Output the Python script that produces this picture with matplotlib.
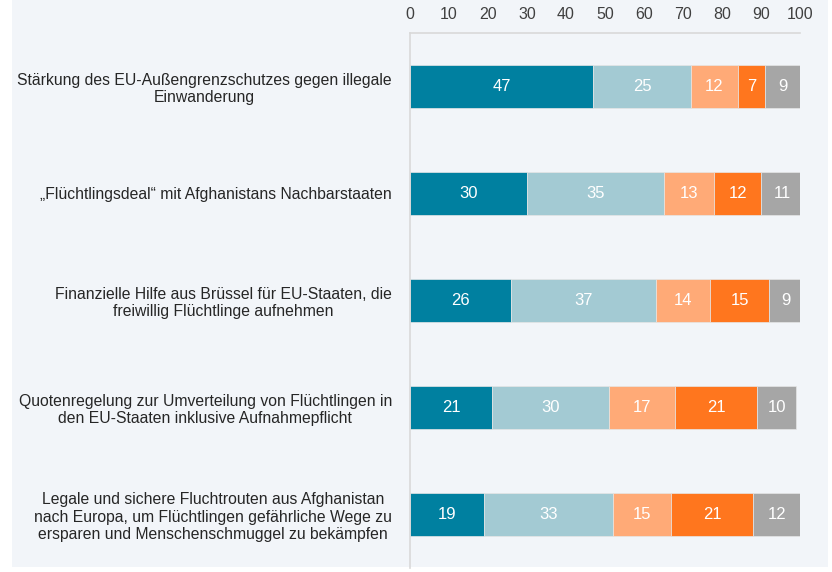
import matplotlib
matplotlib.use("Agg")
import matplotlib.pyplot as plt

plt.rcParams['font.family'] = ['Liberation Sans', 'DejaVu Sans']

categories = [
    "Stärkung des EU-Außengrenzschutzes gegen illegale\nEinwanderung",
    "„Flüchtlingsdeal“ mit Afghanistans Nachbarstaaten",
    "Finanzielle Hilfe aus Brüssel für EU-Staaten, die\nfreiwillig Flüchtlinge aufnehmen",
    "Quotenregelung zur Umverteilung von Flüchtlingen in\nden EU-Staaten inklusive Aufnahmepflicht",
    "Legale und sichere Fluchtrouten aus Afghanistan\nnach Europa, um Flüchtlingen gefährliche Wege zu\nersparen und Menschenschmuggel zu bekämpfen",
]
s1 = [47, 30, 26, 21, 19]
s2 = [25, 35, 37, 30, 33]
s3 = [12, 13, 14, 17, 15]
s4 = [7, 12, 15, 21, 21]
s5 = [9, 11, 9, 10, 12]
series = [s1, s2, s3, s4, s5]
colors = ["#0080A0", "#A3CAD3", "#FFAA77", "#FF761E", "#A6A6A6"]
xticks = [0, 10, 20, 30, 40, 50, 60, 70, 80, 90, 100]

fig = plt.figure(figsize=(8.32, 5.72), dpi=100)
fig.patch.set_facecolor("white")
bgax = fig.add_axes([12/832, 1-567/572, (828-12)/832, 567/572], zorder=-10)
bgax.set_facecolor("#F2F5F9")
bgax.set_xticks([]); bgax.set_yticks([])
for s in bgax.spines.values():
    s.set_visible(False)

ax = fig.add_axes([410/832, 1-568/572, 390/832, (568-33)/572], zorder=1)
ax.set_facecolor("none")

y = list(range(len(categories)))
left = [0]*len(categories)
for vals, c in zip(series, colors):
    ax.barh(y, vals, left=left, height=0.4, color=c, edgecolor="#E6E6E6", linewidth=0.5)
    for yi, l, v in zip(y, left, vals):
        ax.text(l + v/2, yi, str(v), ha="center", va="center", color="white", fontsize=12)
    left = [a+b for a, b in zip(left, vals)]

ax.set_xlim(0, 100)
ax.set_ylim(len(categories)-0.5, -0.5)
ax.xaxis.tick_top()
ax.set_xticks(xticks)
ax.set_xticklabels([str(t) for t in xticks], fontsize=11.5, color="#404040")
ax.tick_params(axis="x", length=0, pad=8)
ax.set_yticks(y)
ax.set_yticklabels(categories, fontsize=11.3, color="#262626", multialignment="center")
ax.tick_params(axis="y", length=0, pad=13)
for s in ["right", "bottom"]:
    ax.spines[s].set_visible(False)
ax.spines["top"].set_color("#D9D9D9")
ax.spines["left"].set_color("#D9D9D9")
ax.spines["top"].set_linewidth(1.2)
ax.spines["left"].set_linewidth(1.2)

fig.savefig("out.png", dpi=100)
